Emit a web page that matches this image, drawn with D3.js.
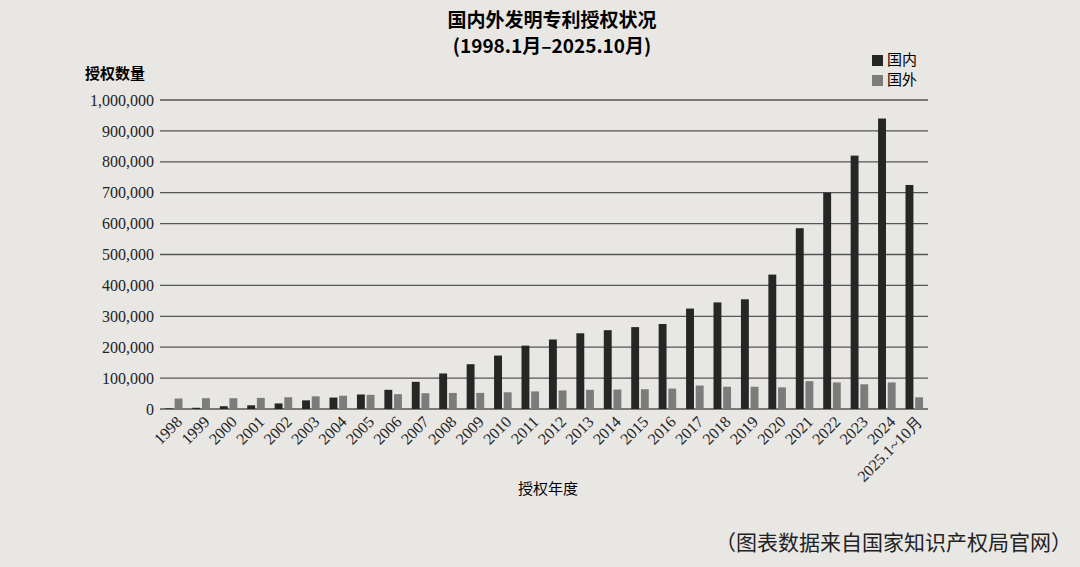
<!DOCTYPE html>
<meta charset="utf-8">
<script src="https://d3js.org/d3.v7.min.js"></script>
<style>body{margin:0;background:#e9e7e4}text{font-family:"Noto Sans CJK SC","Liberation Serif",serif}</style>
<div id="chart"></div>
<script>
// data
var years = ["1998","1999","2000","2001","2002","2003","2004","2005","2006","2007","2008","2009","2010","2011",
  "2012","2013","2014","2015","2016","2017","2018","2019","2020","2021","2022","2023","2024","2025.1~10月"];
var domestic = [2000,4000,9000,12000,18000,28000,37000,47000,62000,88000,115000,145000,173000,205000,
  225000,245000,255000,265000,275000,325000,345000,355000,435000,585000,700000,820000,940000,725000];
var foreign = [34000,35000,35000,36000,38000,41000,43000,46000,48000,51000,52000,52000,54000,57000,
  60000,62000,63000,64000,66000,76000,72000,72000,70000,90000,86000,80000,86000,38000];
var yTicks = [0,100000,200000,300000,400000,500000,600000,700000,800000,900000,1000000];

var W = 1080, H = 567;
var svg = d3.select("#chart").append("svg").attr("width", W).attr("height", H);
var plotL = 160, plotR = 928, plotT = 100, plotB = 409;

var x = d3.scaleBand().domain(years).range([plotL, plotR]).paddingInner(0.2).paddingOuter(0.1);
var y = d3.scaleLinear().domain([0, 1000000]).range([plotB, plotT]);

// gridlines
svg.selectAll(".grid").data(yTicks).enter().append("line")
  .attr("x1", plotL).attr("x2", plotR)
  .attr("y1", function(d){ return y(d); }).attr("y2", function(d){ return y(d); })
  .attr("stroke", "#555").attr("stroke-width", 1.3);

// y labels
svg.selectAll(".yl").data(yTicks).enter().append("text")
  .attr("x", plotL - 6).attr("y", function(d){ return y(d); }).attr("dy", "0.35em")
  .attr("text-anchor", "end").style("font-size", "16px").style("font-family", "Liberation Serif").attr("fill", "#222")
  .text(function(d){ return d3.format(",")(d); });

var bw = x.bandwidth() * 0.36;
svg.selectAll(".dom").data(years).enter().append("rect")
  .attr("x", function(d){ return x(d) + x.bandwidth()*0.1; })
  .attr("y", function(d,i){ return y(domestic[i]); })
  .attr("width", bw)
  .attr("height", function(d,i){ return plotB - y(domestic[i]); })
  .attr("fill", "#262626");
svg.selectAll(".for").data(years).enter().append("rect")
  .attr("x", function(d){ return x(d) + x.bandwidth()*0.54; })
  .attr("y", function(d,i){ return y(foreign[i]); })
  .attr("width", bw)
  .attr("height", function(d,i){ return plotB - y(foreign[i]); })
  .attr("fill", "#7c7c7c");

// x labels
svg.selectAll(".xl").data(years).enter().append("text")
  .attr("transform", function(d){ return "translate(" + (x(d) + x.bandwidth()*0.75) + "," + (plotB + 10) + ") rotate(-45)"; })
  .attr("text-anchor", "end").attr("dy", "0.35em")
  .style("font-size", "16px").style("font-family", "Liberation Serif").attr("fill", "#222")
  .text(function(d){ return d; });

// titles
svg.append("text").attr("x", 552).attr("y", 27).attr("text-anchor", "middle")
  .style("font-size", "19px").style("font-weight", "bold").text("国内外发明专利授权状况");
svg.append("text").attr("x", 552).attr("y", 53).attr("text-anchor", "middle")
  .style("font-size", "19px").style("font-weight", "bold").text("(1998.1月–2025.10月)");
svg.append("text").attr("x", 85).attr("y", 79).style("font-size", "15px").style("font-weight", "bold").text("授权数量");
svg.append("text").attr("x", 548).attr("y", 494).attr("text-anchor", "middle").style("font-size", "15px").text("授权年度");
svg.append("text").attr("x", 1072).attr("y", 550).attr("text-anchor", "end").style("font-size", "21px").attr("fill", "#222")
  .text("（图表数据来自国家知识产权局官网）");

// legend
var legend = [["国内", "#262626"], ["国外", "#7c7c7c"]];
legend.forEach(function(l, i){
  svg.append("rect").attr("x", 872).attr("y", 55 + i*20).attr("width", 11).attr("height", 11).attr("fill", l[1]);
  svg.append("text").attr("x", 887).attr("y", 65 + i*20).style("font-size", "15px").text(l[0]);
});
</script>
